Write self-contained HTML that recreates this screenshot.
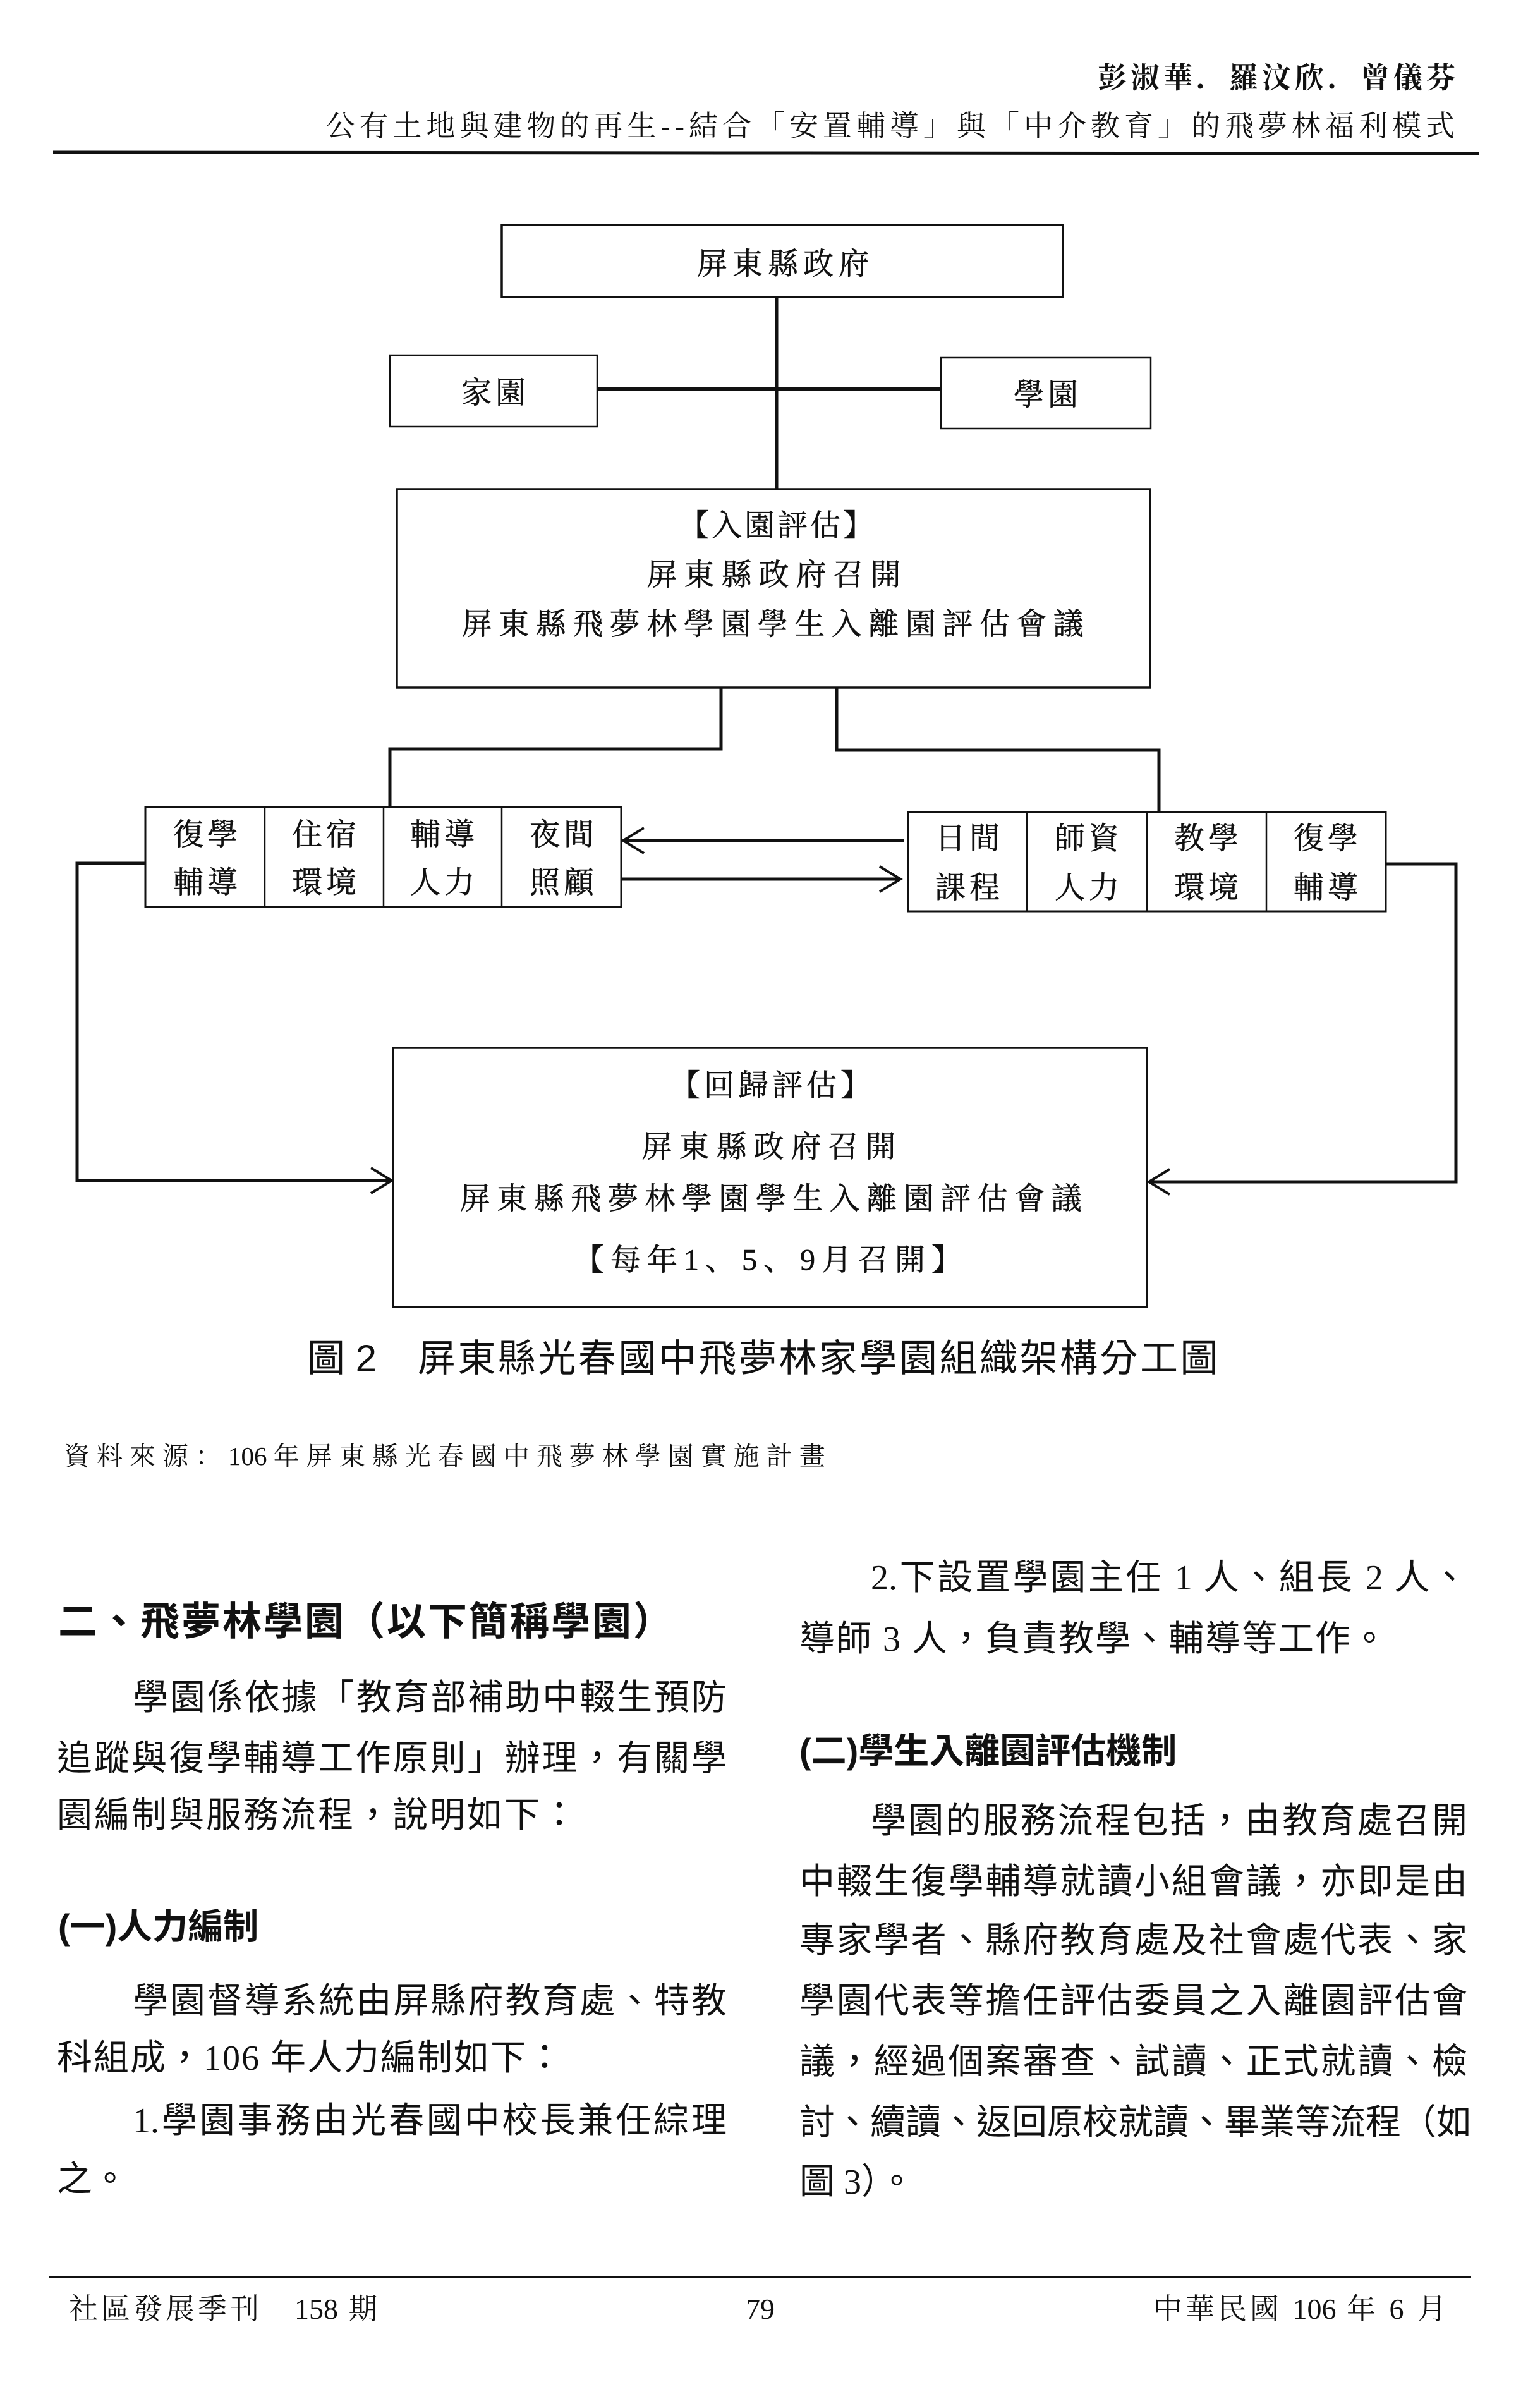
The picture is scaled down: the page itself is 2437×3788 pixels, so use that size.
<!DOCTYPE html>
<html><head><meta charset="utf-8">
<style>
html,body{margin:0;padding:0;background:#fff;}
body{width:2437px;height:3788px;position:relative;overflow:hidden;color:#111;}
.t{position:absolute;white-space:nowrap;}
.serif{font-family:"Liberation Serif","Noto Serif CJK SC","Noto Sans CJK TC",serif;}
.sans{font-family:"Liberation Sans","Noto Sans CJK TC",sans-serif;}
.b{font-size:56px;line-height:56px;font-family:"Liberation Serif","Noto Sans CJK TC",sans-serif;}
.j{text-align:justify;text-align-last:justify;}
.d{letter-spacing:0;}
svg{position:absolute;left:0;top:0;}
svg text{font-family:"Liberation Serif","Noto Serif CJK SC",serif;fill:#111;stroke:#111;stroke-width:0.6;}
</style></head><body>
<svg width="2437" height="2400" viewBox="0 0 2437 2400">
<g fill="none" stroke="#111">
 <line x1="84" y1="241" x2="2340" y2="243" stroke-width="5"/>
 <rect x="794" y="356" width="888" height="114" stroke-width="3.5"/>
 <rect x="617" y="562" width="328" height="113" stroke-width="2.5"/>
 <rect x="1489" y="566" width="332" height="112" stroke-width="2.5"/>
 <rect x="628" y="774" width="1192" height="314" stroke-width="3.5"/>
 <rect x="622" y="1658" width="1193" height="410" stroke-width="3.5"/>
 <rect x="230" y="1277" width="753" height="158" stroke-width="3"/>
 <line x1="419" y1="1277" x2="419" y2="1435" stroke-width="2.5"/>
 <line x1="607" y1="1277" x2="607" y2="1435" stroke-width="2.5"/>
 <line x1="794" y1="1277" x2="794" y2="1435" stroke-width="2.5"/>
 <rect x="1437" y="1285" width="756" height="157" stroke-width="3"/>
 <line x1="1625" y1="1285" x2="1625" y2="1442" stroke-width="2.5"/>
 <line x1="1815" y1="1285" x2="1815" y2="1442" stroke-width="2.5"/>
 <line x1="2004" y1="1285" x2="2004" y2="1442" stroke-width="2.5"/>
 <line x1="1229" y1="470" x2="1229" y2="774" stroke-width="5"/>
 <line x1="945" y1="615" x2="1489" y2="615" stroke-width="6"/>
 <polyline points="1141,1088 1141,1185 617,1185 617,1277" stroke-width="5"/>
 <polyline points="1324,1088 1324,1187 1834,1187 1834,1285" stroke-width="5"/>
 <line x1="1431" y1="1330" x2="986" y2="1330" stroke-width="5"/>
 <polyline points="1019,1310 986,1330 1019,1350" stroke-width="4"/>
 <line x1="983" y1="1391" x2="1425" y2="1391" stroke-width="5"/>
 <polyline points="1392,1371 1425,1391 1392,1411" stroke-width="4"/>
 <polyline points="230,1366 122,1366 122,1868 620,1868" stroke-width="5"/>
 <polyline points="587,1848 620,1868 587,1888" stroke-width="4"/>
 <polyline points="2193,1367 2304,1367 2304,1870 1818,1870" stroke-width="5"/>
 <polyline points="1851,1850 1818,1870 1851,1890" stroke-width="4"/>
</g>
<g font-size="48" text-anchor="middle" dominant-baseline="central">
 <text x="1243" y="418" letter-spacing="8">屏東縣政府</text>
 <text x="784" y="622" letter-spacing="6">家園</text>
 <text x="1658" y="625" letter-spacing="6">學園</text>
 <text x="1230" y="832" letter-spacing="4">【入園評估】</text>
 <text x="1230" y="910" letter-spacing="11">屏東縣政府召開</text>
 <text x="1228" y="988" letter-spacing="10.5">屏東縣飛夢林學園學生入離園評估會議</text>
 <text x="1222" y="1718" letter-spacing="6">【回歸評估】</text>
 <text x="1222" y="1815" letter-spacing="11">屏東縣政府召開</text>
 <text x="1225" y="1897" letter-spacing="10.5">屏東縣飛夢林學園學生入離園評估會議</text>
 <text x="1220" y="1994" letter-spacing="10">【每年1、5、9月召開】</text>
</g>
<g font-size="48" text-anchor="middle" dominant-baseline="central" letter-spacing="6">
 <text x="328" y="1321">復學</text><text x="328" y="1397">輔導</text>
 <text x="516" y="1321">住宿</text><text x="516" y="1397">環境</text>
 <text x="703" y="1321">輔導</text><text x="703" y="1397">人力</text>
 <text x="892" y="1321">夜間</text><text x="892" y="1397">照顧</text>
 <text x="1534" y="1327">日間</text><text x="1534" y="1405">課程</text>
 <text x="1723" y="1327">師資</text><text x="1723" y="1405">人力</text>
 <text x="1912" y="1327">教學</text><text x="1912" y="1405">環境</text>
 <text x="2101" y="1327">復學</text><text x="2101" y="1405">輔導</text>
</g>
</svg>

<div class="t serif" style="right:128px;top:100px;font-size:46px;line-height:48px;font-weight:bold;letter-spacing:6px;">彭淑華．羅汶欣．曾儀芬</div>
<div class="t serif" style="right:128px;top:176px;font-size:46px;line-height:48px;letter-spacing:7px;">公有土地與建物的再生--結合「安置輔導」與「中介教育」的飛夢林福利模式</div>

<div class="t sans" style="left:486px;top:2120px;font-size:60px;line-height:60px;">圖 2</div>
<div class="t sans" style="left:661px;top:2120px;font-size:60px;line-height:60px;letter-spacing:3.5px;">屏東縣光春國中飛夢林家學園組織架構分工圖</div>
<div class="t serif" style="left:101px;top:2283px;font-size:41px;line-height:42px;letter-spacing:11px;">資料來源：<span class="d">106 </span>年屏東縣光春國中飛夢林學園實施計畫</div>

<div class="t sans" style="left:92px;top:2535px;font-size:62px;line-height:64px;font-weight:bold;letter-spacing:3px;">二、飛夢林學園（以下簡稱學園）</div>
<div class="t b j" style="left:210px;top:2659px;width:940px;">學園係依據「教育部補助中輟生預防</div>
<div class="t b j" style="left:90px;top:2755px;width:1060px;">追蹤與復學輔導工作原則」辦理，有關學</div>
<div class="t b" style="left:90px;top:2845px;letter-spacing:3px;">園編制與服務流程，說明如下：</div>
<div class="t sans" style="left:92px;top:3021px;font-size:56px;line-height:56px;font-weight:bold;">(一)人力編制</div>
<div class="t b j" style="left:210px;top:3139px;width:940px;">學園督導系統由屏縣府教育處、特教</div>
<div class="t b" style="left:90px;top:3229px;letter-spacing:2px;">科組成，106 年人力編制如下：</div>
<div class="t b j" style="left:210px;top:3328px;width:940px;">1.學園事務由光春國中校長兼任綜理</div>
<div class="t b" style="left:90px;top:3421px;">之。</div>

<div class="t b j" style="left:1378px;top:2469px;width:944px;">2.下設置學園主任 1 人、組長 2 人、</div>
<div class="t b" style="left:1265px;top:2566px;letter-spacing:2px;">導師 3 人，負責教學、輔導等工作。</div>
<div class="t sans" style="left:1265px;top:2743px;font-size:56px;line-height:56px;font-weight:bold;">(二)學生入離園評估機制</div>
<div class="t b j" style="left:1378px;top:2854px;width:944px;">學園的服務流程包括，由教育處召開</div>
<div class="t b j" style="left:1265px;top:2950px;width:1057px;">中輟生復學輔導就讀小組會議，亦即是由</div>
<div class="t b j" style="left:1265px;top:3043px;width:1057px;">專家學者、縣府教育處及社會處代表、家</div>
<div class="t b j" style="left:1265px;top:3139px;width:1057px;">學園代表等擔任評估委員之入離園評估會</div>
<div class="t b j" style="left:1265px;top:3235px;width:1057px;">議，經過個案審查、試讀、正式就讀、檢</div>
<div class="t b j" style="left:1265px;top:3331px;width:1057px;">討、續讀、返回原校就讀、畢業等流程（如</div>
<div class="t b" style="left:1265px;top:3425px;">圖 3）。</div>

<div style="position:absolute;left:78px;top:3601px;width:2250px;height:4px;background:#111;"></div>
<div class="t serif" style="left:109px;top:3630px;font-size:46px;line-height:48px;letter-spacing:5px;">社區發展季刊　<span class="d">158</span> 期</div>
<div class="t serif" style="left:1180px;top:3630px;font-size:46px;line-height:48px;">79</div>
<div class="t serif" style="right:143px;top:3630px;font-size:46px;line-height:48px;letter-spacing:5px;">中華民國 <span class="d">106</span> 年 6 月</div>
</body></html>
